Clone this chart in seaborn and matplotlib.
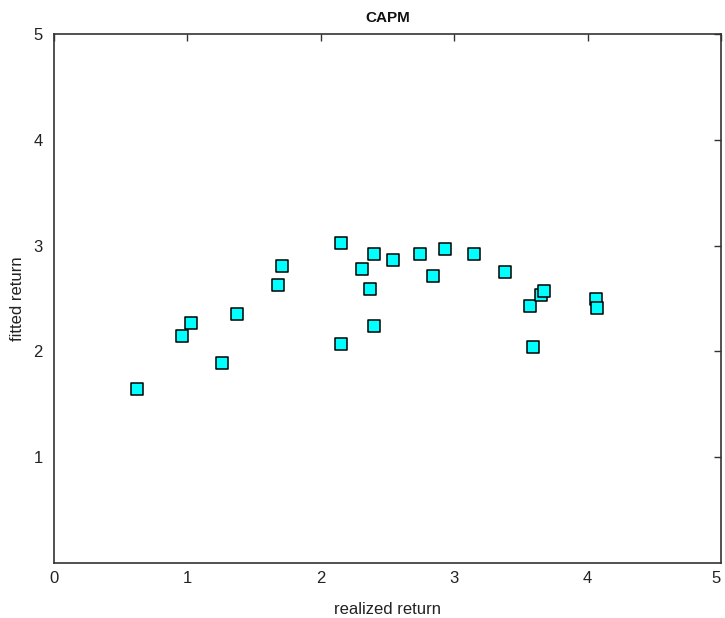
import matplotlib
matplotlib.use("Agg")
import matplotlib.pyplot as plt
import seaborn as sns
import pandas as pd

realized = [0.62, 0.96, 1.03, 1.26, 1.37, 1.68, 1.71, 2.15, 2.15, 2.31, 2.37, 2.40, 2.40,
            2.54, 2.74, 2.84, 2.93, 3.15, 3.38, 3.57, 3.59, 3.65, 3.67, 4.06, 4.07]
fitted = [1.64, 2.15, 2.27, 1.89, 2.35, 2.63, 2.81, 3.02, 2.07, 2.78, 2.59, 2.92, 2.24,
          2.86, 2.92, 2.71, 2.97, 2.92, 2.75, 2.43, 2.04, 2.53, 2.57, 2.50, 2.41]
x_ticks = [0, 1, 2, 3, 4, 5]
y_ticks = [1, 2, 3, 4, 5]

df = pd.DataFrame({"realized return": realized, "fitted return": fitted})

sns.set_style("white")
plt.rcParams['font.family'] = ['Liberation Sans', 'DejaVu Sans']

fig = plt.figure(figsize=(7.25, 6.18), dpi=100)
ax = fig.add_axes([54/725, 55/618, 667/725, 529/618])

sns.scatterplot(data=df, x="realized return", y="fitted return", marker="s",
                s=70, color="#00FFFF", edgecolor="black", linewidth=1.1, ax=ax, zorder=3)

ax.set_xlim(0, 5)
ax.set_ylim(0, 5)
ax.set_xticks(x_ticks)
ax.set_yticks(y_ticks)
ax.tick_params(direction="in", length=5, width=1, top=True, right=True,
               labelsize=12, color="#333333", labelcolor="#222222")
ax.tick_params(axis="x", pad=6)
ax.tick_params(axis="y", pad=8)
for sp in ax.spines.values():
    sp.set_color("#333333")
    sp.set_linewidth(1.2)
ax.set_xlabel("realized return", fontsize=12, labelpad=11, color="#222222")
ax.set_ylabel("fitted return", fontsize=12, labelpad=6, color="#222222")
ax.set_title("CAPM", fontsize=11, fontweight="bold", pad=9, color="#111111")

last = ax.get_xticklabels()[-1]
last.set_horizontalalignment("right")

fig.savefig("out.png", dpi=100)
